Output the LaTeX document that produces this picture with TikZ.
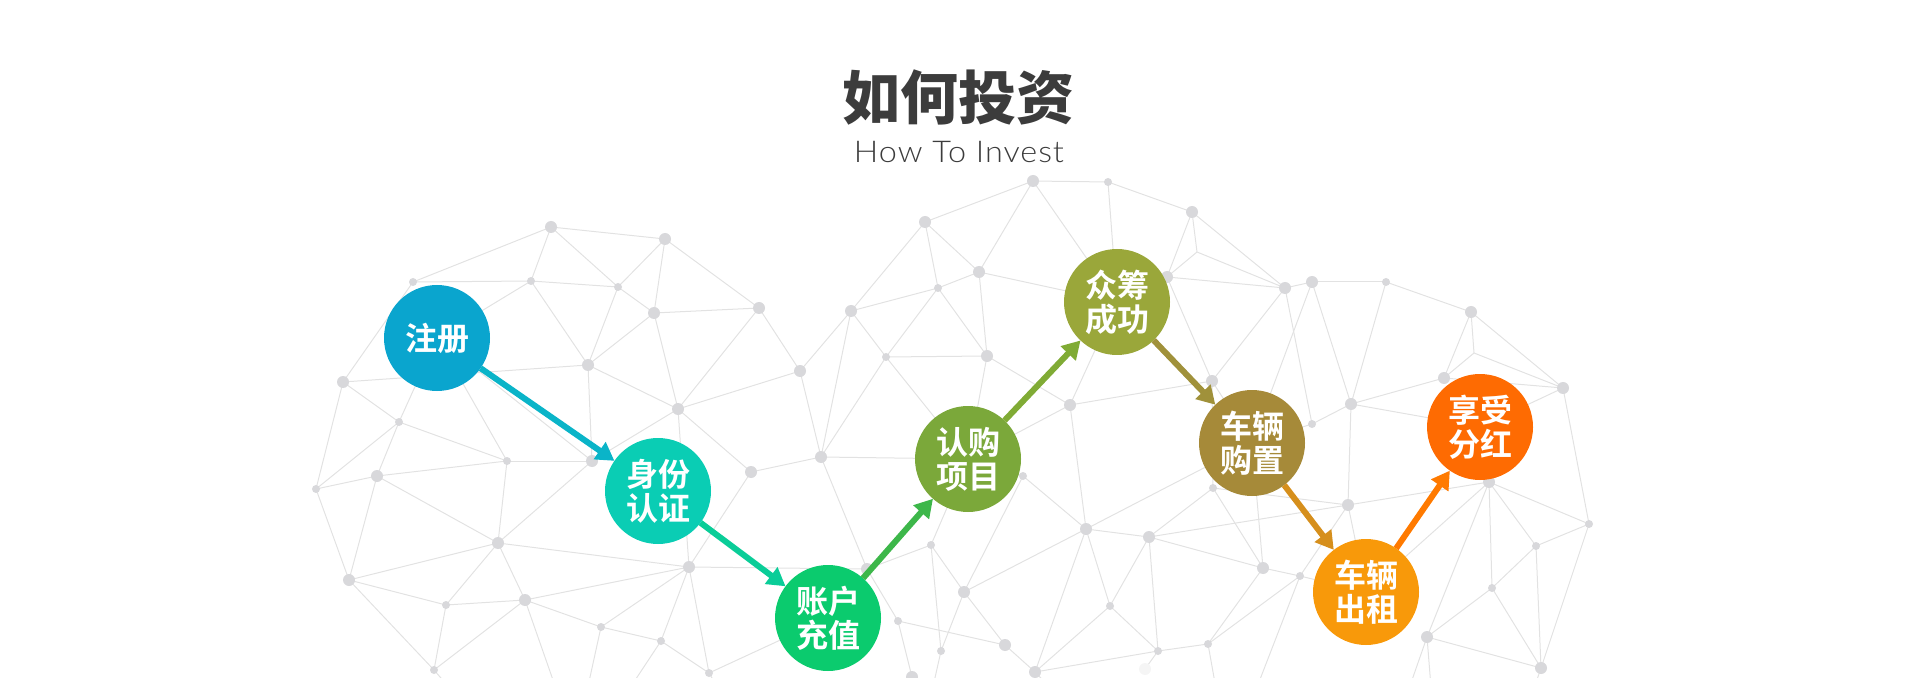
\documentclass[tikz,border=0pt]{standalone}
\usepackage{fontspec}
\usepackage{graphicx}
\newfontfamily\cjkb{Noto Sans CJK SC Bold}
\newfontfamily\cjkblack{Noto Sans CJK SC Black}
\newfontfamily\latolight{Lato Light}[LetterSpace=3]
\usetikzlibrary{arrows.meta}
\definecolor{edgec}{HTML}{E2E2E2}
\definecolor{dotc}{HTML}{D8D8DB}
\definecolor{titlec}{HTML}{3C3C3C}
\definecolor{subc}{HTML}{3C3C3C}
\definecolor{c1}{HTML}{0AA5CE}
\definecolor{c2}{HTML}{0ACDB4}
\definecolor{c3}{HTML}{0BCB6E}
\definecolor{c4}{HTML}{7BA83A}
\definecolor{c5}{HTML}{9AA73A}
\definecolor{c6}{HTML}{A68A39}
\definecolor{c7}{HTML}{F8990A}
\definecolor{c8}{HTML}{FE6B02}
\definecolor{ar1}{HTML}{0AB4C8}
\definecolor{ar2}{HTML}{0ACD98}
\definecolor{ar3}{HTML}{3DB74A}
\definecolor{ar4}{HTML}{80AB35}
\definecolor{ar5}{HTML}{A0913A}
\definecolor{ar6}{HTML}{D68F1C}
\definecolor{ar7}{HTML}{FF7A00}
\tikzset{
  edge/.style={draw=edgec, line width=0.5pt},
  stepc/.style={circle, minimum size=53pt, inner sep=0pt, outer sep=0pt, text=white, align=center, font=\cjkb\fontsize{16pt}{17pt}\selectfont},
  flow/.style={line width=3pt, -{Triangle[length=9pt,width=10pt]}},
}
\begin{document}
\begin{tikzpicture}[x=0.5pt,y=-0.5pt]
\useasboundingbox (0,0) rectangle (1920,678);
\clip (0,0) rectangle (1920,678);
% mesh points
\foreach \n/\x/\y in {a1/551/227,a2/665/239,a3/413/282,a4/531/281,a5/618/287,a6/654/313,a7/759/308,a8/588/365,a9/343/382,a10/800/371,a11/678/409,a12/399/422,a13/507/461,a14/592/461,a15/377/476,a16/316/489,a17/751/472,a18/498/543,a19/689/567,a20/349/580,a21/446/605,a22/525/600,a23/601/627,a24/661/641,a25/434/670,a26/709/673,
b1/1033/181,b2/1108/182,b3/925/222,b4/1192/212,b5/979/272,b6/1167/277,b7/1285/288,b8/938/288,b9/851/311,b10/886/357,b11/987/356,b12/1212/381,b13/1070/405,b14/821/457,b15/1023/476,b16/1213/488,b17/1086/529,b18/1149/537,b19/931/545,b20/867/569,b21/1263/568,b22/964/592,b23/1110/606,b24/898/621,b25/1158/651,b26/941/651,b27/1005/645,b28/1208/644,b29/1035/672,b30/1145/669,b31/1300/576,b32/1197/252,b33/912/677,
c1/1312/282,c2/1386/282,c3/1471/312,c4/1474/353,c5/1444/378,c6/1563/388,c7/1351/404,c8/1312/424,c9/1489/482,c10/1348/505,c11/1589/524,c12/1536/546,c14/1492/588,c15/1427/637,c16/1541/668,
h1/437/338,h2/658/491,h3/828/618,h4/968/459,h5/1117/302,h6/1252/443,h7/1366/592,h8/1480/427,
o1/560/700,o2/585/700,o3/622/700,o4/725/700,o5/460/700,o6/1062/700,o7/1432/700,o8/1405/700,o9/1530/700,o10/1218/700,o11/1252/700,o12/930/700}
  \coordinate (\n) at (\x,\y);
% mesh edges
\foreach \u/\v in {a1/a2,a1/a3,a1/a4,a1/a5,a2/a5,a2/a6,a2/a7,a3/a4,a4/a5,a3/a9,a4/a8,a5/a8,a5/a6,a6/a8,a6/a7,a6/a11,a7/a11,a7/a10,a8/a9,a8/a14,a8/a11,a10/a11,a9/a12,a9/a16,a12/a13,a12/a16,a12/a15,a13/a14,a13/a18,a15/a13,a15/a16,a15/a18,a15/a20,a16/a20,a14/a18,a11/a17,a11/a19,a11/a14,a17/a19,a17/b14,a18/a19,a18/a20,a18/a21,a18/a22,a20/a21,a20/a25,a21/a22,a21/a25,a22/a19,a22/a23,a22/a25,a19/a23,a19/a24,a19/a26,a19/b20,a23/a24,a24/a26,a26/h3,a4/h1,a13/h1,a14/h1,a12/h1,a10/b9,a10/b14,a22/o1,a23/o2,a24/o3,a26/o4,a25/o5,
b1/b2,b1/b3,b1/b5,b1/h5,b2/b4,b2/h5,b3/b9,b3/b5,b3/b8,b5/b8,b5/b11,b5/h5,b4/b6,b4/b32,b4/b7,b32/b7,b32/b6,b6/b7,b6/b12,b7/b12,b7/c8,b8/b9,b8/b10,b8/b11,b9/b10,b9/b14,b10/b11,b10/b14,b10/h4,b11/b13,b11/h4,b13/b12,b13/b17,b13/h4,b13/h5,b12/h6,b12/b16,b14/h4,b14/b20,b15/b17,b15/b22,b15/h4,b17/b18,b17/b22,b17/b23,b17/h6,b17/b29,b18/b16,b18/b21,b18/b23,b18/b25,b16/b21,b21/h6,b21/b31,b21/b28,b19/h4,b19/b22,b19/b26,b19/b20,b20/b24,b20/h3,b22/b26,b22/b27,b24/b27,b24/b33,b27/b29,b23/b25,b23/b29,b25/b28,b25/b29,b25/b30,b28/b31,b29/o6,b26/o12,
b7/c1,c1/c2,c1/c7,c1/h6,c2/c3,c2/c7,c3/c4,c3/c5,c3/c6,c4/c5,c4/c6,c5/c7,c5/c6,c6/c11,c6/h8,c7/c8,c7/c10,c7/h8,c8/h6,c9/c11,c9/c12,c9/c14,c9/c15,c9/h7,c10/c9,c10/b31,c10/b18,c10/b16,c10/h7,c11/c12,c11/c16,c12/c14,c12/c16,c14/c15,c14/c16,c15/c16,b31/h7,c15/o7,c15/o8,c16/o9,b28/o10,b31/o11}
  \draw[edge] (\u) -- (\v);
% dots
\foreach \n in {a1,a2,a6,a7,a8,a9,a10,a11,a14,a15,a17,a18,a19,a20,a22,b1,b3,b4,b5,b6,b7,b9,b11,b12,b13,b14,b17,b18,b20,b21,b22,b27,b29,b33,c1,c3,c5,c6,c7,c9,c10,c15,c16}
  \fill[dotc] (\n) circle (3pt);
\foreach \n in {a3,a4,a5,a12,a13,a16,a21,a23,a24,a25,a26,b2,b8,b10,b15,b16,b19,b23,b24,b25,b26,b28,b31,c2,c8,c11,c12,c14}
  \fill[dotc] (\n) circle (2pt);
\fill[black!4] (b30) circle (3pt);
% title
\node[font=\cjkblack\fontsize{29pt}{29pt}\selectfont, text=titlec] (title) at (958,97) {如何投资};
\node[font=\latolight\fontsize{15pt}{15pt}\selectfont, text=subc, anchor=base] (sub) at (959,163) {\scalebox{1.08}[1]{How To Invest}};
% steps
\node[stepc, fill=c1] (s1) at (437,338) {注册};
\node[stepc, fill=c2] (s2) at (658,491) {身份\\认证};
\node[stepc, fill=c3] (s3) at (828,618) {账户\\充值};
\node[stepc, fill=c4] (s4) at (968,459) {认购\\项目};
\node[stepc, fill=c5] (s5) at (1117,302) {众筹\\成功};
\node[stepc, fill=c6] (s6) at (1252,443) {车辆\\购置};
\node[stepc, fill=c7] (s7) at (1366,592) {车辆\\出租};
\node[stepc, fill=c8] (s8) at (1480,427) {享受\\分红};
\draw[flow, ar1] (s1) -- (s2);
\draw[flow, ar2] (s2) -- (s3);
\draw[flow, ar3] (s3) -- (s4);
\draw[flow, ar4] (s4) -- (s5);
\draw[flow, ar5] (s5) -- (s6);
\draw[flow, ar6] (s6) -- (s7);
\draw[flow, ar7] (s7) -- (s8);
\end{tikzpicture}
\end{document}
